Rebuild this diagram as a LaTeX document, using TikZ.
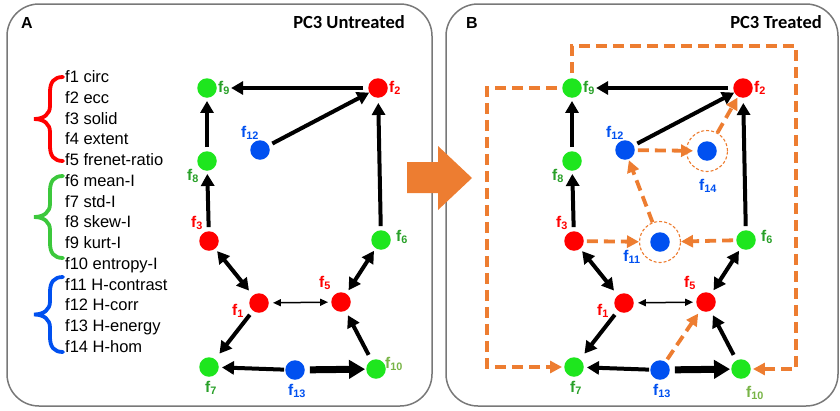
\documentclass[tikz,border=0pt]{standalone}
\usepackage{fontspec}
\setmainfont{Liberation Sans}
\newfontfamily\calibfont{Carlito}
\usetikzlibrary{arrows.meta}

\definecolor{nred}{RGB}{255,0,0}
\definecolor{ngreen}{RGB}{30,230,30}
\definecolor{nblue}{RGB}{0,80,240}
\definecolor{lgreen}{RGB}{40,160,40}
\definecolor{lolive}{RGB}{120,180,70}
\definecolor{bgreen}{RGB}{60,200,60}
\definecolor{orng}{RGB}{237,125,49}
\definecolor{framegray}{RGB}{120,120,120}

% feature label: f with subscript index
\newcommand\fl[1]{f\textsubscript{#1}}

% curly brace: top y, bottom y, colour
\newcommand\curly[3]{%
  \pgfmathsetmacro\bm{(#1+#2)/2}%
  \draw[#3, line width=3.8pt, line cap=round]
    (63,#1) .. controls (54,#1) and (50,#1+5) .. (50,#1+15)
    -- (50,\bm-13) .. controls (50,\bm-5) and (44,\bm) .. (34,\bm)
    .. controls (44,\bm) and (50,\bm+5) .. (50,\bm+13)
    -- (50,#2-15) .. controls (50,#2-5) and (54,#2) .. (63,#2);
}

% nodes and black arrows shared by both panels; #1 = name prefix
\newcommand\graphcore[1]{%
  \node[dot,fill=ngreen] (#1f9)  at (207,88)  {};
  \node[dot,fill=nred]   (#1f2)  at (378,88)  {};
  \node[dot,fill=nblue]  (#1f12) at (260,150) {};
  \node[dot,fill=ngreen] (#1f8)  at (207,161) {};
  \node[dot,fill=nred]   (#1f3)  at (209,241) {};
  \node[dot,fill=ngreen] (#1f6)  at (381,240) {};
  \node[dot,fill=nred]   (#1f1)  at (259,303) {};
  \node[dot,fill=nred]   (#1f5)  at (341,302) {};
  \node[dot,fill=ngreen] (#1f7)  at (209,367) {};
  \node[dot,fill=nblue]  (#1f13) at (295,370) {};
  \node[dot,fill=ngreen] (#1f10) at (376,369) {};
  %
  \node[lab,text=lgreen,anchor=west] (#1f9l)  at (218,88)  {\fl{9}};
  \node[lab,text=nred,anchor=west]   (#1f2l)  at (389,88)  {\fl{2}};
  \node[lab,text=nblue]              (#1f12l) at (250,133) {\fl{12}};
  \node[lab,text=lgreen]             (#1f8l)  at (193,176) {\fl{8}};
  \node[lab,text=nred]               (#1f3l)  at (197,223) {\fl{3}};
  \node[lab,text=lgreen,anchor=west] (#1f6l)  at (396,237) {\fl{6}};
  \node[lab,text=nred]               (#1f1l)  at (238,311) {\fl{1}};
  \node[lab,text=nred]               (#1f5l)  at (325,283) {\fl{5}};
  \node[lab,text=lgreen]             (#1f7l)  at (211,388) {\fl{7}};
  \node[lab,text=nblue]              (#1f13l) at (297,391) {\fl{13}};
  %
  \draw[blk,shorten <=5pt,shorten >=1pt] (#1f2.west) -- (#1f9l.east |- #1f2.west);
  \draw[blk,shorten >=0pt] (#1f12) -- (#1f2);
  \draw[blk] (#1f8) -- (#1f9);
  \draw[blk] (#1f3) -- (#1f8);
  \draw[blk,shorten >=5pt] (#1f6) -- (#1f2);
  \draw[dblk,shorten <=3pt,shorten >=6pt] (#1f3) -- (#1f1);
  \draw[dblk,shorten <=3pt,shorten >=4pt] (#1f6) -- (#1f5);
  \draw[tdbl,shorten <=4pt,shorten >=3pt] (#1f1) -- (#1f5);
  \draw[blk,shorten <=5pt,shorten >=7pt] (#1f1) -- (#1f7);
  \draw[blk,shorten <=6pt,shorten >=5pt] (#1f10) -- (#1f5);
  \draw[blk,shorten <=1pt] (#1f13) -- (#1f7);
  \draw[thk,shorten <=5pt,shorten >=1pt] (#1f13) -- (#1f10);
}

\begin{document}
\begin{tikzpicture}[x=1pt,y=-1pt,
  dot/.style={circle,minimum size=19.5pt,inner sep=0pt},
  ring/.style={circle,minimum size=41pt,inner sep=0pt,draw=orng,line width=1.1pt,dash pattern=on 3pt off 2pt},
  lab/.style={inner sep=0pt,font=\bfseries\fontsize{15.5}{18}\selectfont},
  legend/.style={inner sep=0pt,anchor=base west,font=\fontsize{16.5}{19}\selectfont},
  ttl/.style={inner sep=0pt,anchor=base east,font=\calibfont\bfseries\fontsize{18.5}{22}\selectfont},
  letter/.style={inner sep=0pt,anchor=base west,font=\bfseries\fontsize{16}{19}\selectfont},
  frm/.style={draw=framegray,line width=1.5pt,rounded corners=32pt},
  blk/.style={draw=black,line width=4pt,shorten <=4pt,shorten >=3pt,-{Triangle[length=12pt,width=13pt]}},
  dblk/.style={draw=black,line width=4pt,{Triangle[length=12pt,width=13pt]}-{Triangle[length=12pt,width=13pt]}},
  tdbl/.style={draw=black,line width=1.5pt,{Triangle[length=8pt,width=7pt]}-{Triangle[length=8pt,width=7pt]}},
  thk/.style={draw=black,line width=7pt,-{Triangle[length=16pt,width=18pt]}},
  oarr/.style={draw=orng,line width=3.8pt,dash pattern=on 11pt off 6pt,shorten <=3pt,shorten >=2pt,-{Triangle[length=12pt,width=12pt]}}]

\useasboundingbox (0,0) rectangle (840,410);

% panel frames
\draw[frm] (7,4) rectangle (432,406);
\draw[frm] (446,4) rectangle (838,406);

% titles
\node[letter] (lA) at (21,28) {A};
\node[ttl] (tA) at (405,28) {PC3 Untreated};
\node[letter] (lB) at (466,28) {B};
\node[ttl] (tB) at (822,28) {PC3 Treated};

% legend
\foreach \t [count=\i] in {f1 circ, f2 ecc, f3 solid, f4 extent, f5 frenet-ratio,
    f6 mean-I, f7 std-I, f8 skew-I, f9 kurt-I, f10 entropy-I,
    f11 H-contrast, f12 H-corr, f13 H-energy, f14 H-hom}
  \node[legend] (leg\i) at (65,{82.5+(\i-1)*20.75}) {\t};

\curly{77}{161}{nred}
\curly{176}{258}{bgreen}
\curly{277}{352}{nblue}

% panel A graph
\begin{scope}
  \graphcore{A}
  \node[lab,text=lolive,anchor=west] (Af10l) at (385,364) {\fl{10}};
\end{scope}

% panel B graph
\begin{scope}[xshift=365pt]
  \graphcore{B}
  \node[lab,text=lolive] (Bf10l) at (390,393) {\fl{10}};
\end{scope}

% extra nodes of panel B
\node[dot,fill=nblue] (f14) at (707,151) {};
\node[ring] (r14) at (707,151) {};
\node[dot,fill=nblue] (f11) at (660,242) {};
\node[ring] (r11) at (660,242) {};
\node[lab,text=nblue] (f14l) at (708,186) {\fl{14}};
\node[lab,text=nblue] (f11l) at (632,257) {\fl{11}};

% orange dashed links of panel B
\draw[oarr,shorten >=4pt] (Bf12) -- (f14);
\draw[oarr,shorten <=0pt,shorten >=1pt] (r14) -- (Bf2);
\draw[oarr,shorten <=0pt,shorten >=1pt] (r11) -- (Bf12);
\draw[oarr,shorten >=0pt] (Bf3) -- (r11);
\draw[oarr,shorten >=0pt] (Bf6) -- (r11);
\draw[oarr,shorten >=4pt] (Bf13) -- (Bf5);
\coordinate (lp1) at (796,46);
\coordinate (lp2) at (487,200);
\draw[oarr,shorten <=5pt] (Bf9.north) |- (lp1) |- (Bf10.east);
\draw[oarr,shorten <=5pt] (Bf9.west) -| (lp2) |- (Bf7.west);

% big arrow between the panels
\fill[orng] (407,162) -- (438,162) -- (438,146) -- (472,178) -- (438,210) -- (438,193) -- (407,193) -- cycle;

\end{tikzpicture}
\end{document}
